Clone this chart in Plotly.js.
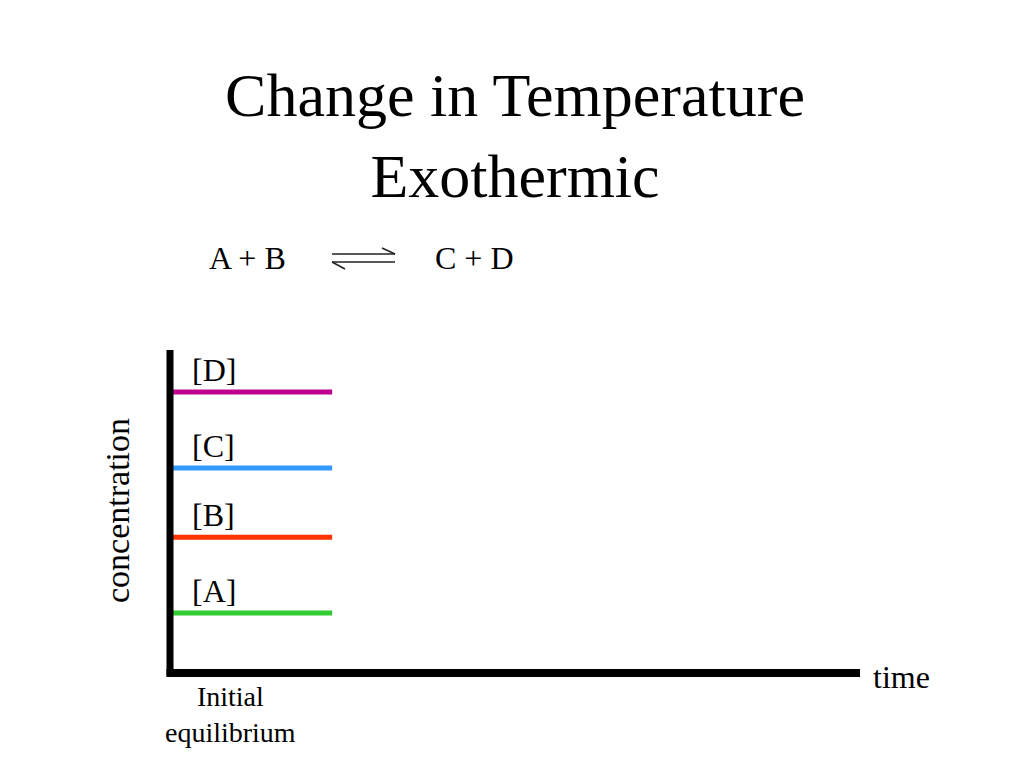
<!DOCTYPE html>
<html>
<head>
<meta charset="utf-8">
<script src="https://cdn.plot.ly/plotly-3.0.1.min.js"></script>
<style>html,body{margin:0;padding:0;background:#fff;}#chart{width:1024px;height:768px;}</style>
</head>
<body>
<div id="chart"></div>
<script>
// ---- data ----
const species = ['[A]', '[B]', '[C]', '[D]'];
const concentration = [18.6, 42, 63.5, 87];
const lineColors = ['#33cc33', '#ff3300', '#3399ff', '#c0008f'];
const timeStart = 0;
const timeEnd = 23.5;
const titleText = 'Change in Temperature<br>Exothermic';
const reactants = 'A + B';
const products = 'C + D';
const xLabel = 'time';
const yLabel = 'concentration';
const markerLabel = 'Initial<br>equilibrium';

// ---- layout helpers (pixel -> paper) ----
const M = {l: 170, r: 164, t: 350, b: 95};
const W = 1024, H = 768;
const PW = W - M.l - M.r, PH = H - M.t - M.b;
const px = x => (x - M.l) / PW;
const py = y => (H - M.b - y) / PH;
const FONT = 'Liberation Serif, Times New Roman, serif';

const traces = species.map((s, i) => ({
  type: 'scatter', mode: 'lines', name: s,
  x: [timeStart, timeEnd],
  y: [concentration[i], concentration[i]],
  line: {color: lineColors[i], width: 5},
  hoverinfo: 'skip'
}));

const annotations = species.map((s, i) => ({
  text: s, x: 2.9, y: concentration[i], xref: 'x', yref: 'y',
  xanchor: 'left', yanchor: 'middle', yshift: 22, showarrow: false,
  font: {family: FONT, size: 32, color: '#000'}
}));

annotations.push(
  {text: reactants, x: px(247), y: py(258), xref: 'paper', yref: 'paper', xanchor: 'center', yanchor: 'middle', showarrow: false, font: {family: FONT, size: 32, color: '#000'}},
  {text: products, x: px(474), y: py(258), xref: 'paper', yref: 'paper', xanchor: 'center', yanchor: 'middle', showarrow: false, font: {family: FONT, size: 32, color: '#000'}},
  {text: yLabel, x: px(117), y: py(511), xref: 'paper', yref: 'paper', xanchor: 'center', yanchor: 'middle', textangle: -90, showarrow: false, font: {family: FONT, size: 34, color: '#000'}},
  {text: xLabel, x: px(871), y: py(677), xref: 'paper', yref: 'paper', xanchor: 'left', yanchor: 'middle', showarrow: false, font: {family: FONT, size: 32, color: '#000'}},
  {text: markerLabel, x: px(230), y: py(714), xref: 'paper', yref: 'paper', xanchor: 'center', yanchor: 'middle', showarrow: false, font: {family: FONT, size: 28, color: '#000'}}
);

const arrowStyle = {color: '#222', width: 1.5};
const shapes = [
  // axes
  {type: 'line', xref: 'paper', yref: 'paper', x0: 0, x1: 0, y0: py(676), y1: 1, line: {color: '#000', width: 7}},
  {type: 'line', xref: 'paper', yref: 'paper', x0: px(166.5), x1: 1, y0: 0, y1: 0, line: {color: '#000', width: 8}},
  // equilibrium arrow
  {type: 'line', xref: 'paper', yref: 'paper', x0: px(332), x1: px(395), y0: py(254), y1: py(254), line: arrowStyle},
  {type: 'line', xref: 'paper', yref: 'paper', x0: px(382), x1: px(395), y0: py(248), y1: py(254), line: arrowStyle},
  {type: 'line', xref: 'paper', yref: 'paper', x0: px(332), x1: px(395), y0: py(262), y1: py(262), line: arrowStyle},
  {type: 'line', xref: 'paper', yref: 'paper', x0: px(332), x1: px(345), y0: py(262), y1: py(269), line: arrowStyle}
];

const layout = {
  width: W, height: H,
  margin: M,
  paper_bgcolor: '#fff', plot_bgcolor: '#fff',
  showlegend: false,
  title: {text: titleText, x: 0.5, xref: 'paper', xanchor: 'center',
          y: 1 - 116 / H, yref: 'container', yanchor: 'middle',
          font: {family: FONT, size: 62, color: '#000'}},
  xaxis: {range: [0, 100], showgrid: false, zeroline: false, showline: false, showticklabels: false, ticks: '', fixedrange: true},
  yaxis: {range: [0, 100], showgrid: false, zeroline: false, showline: false, showticklabels: false, ticks: '', fixedrange: true},
  annotations: annotations,
  shapes: shapes
};

Plotly.newPlot('chart', traces, layout, {displayModeBar: false, staticPlot: true});
</script>
</body>
</html>
